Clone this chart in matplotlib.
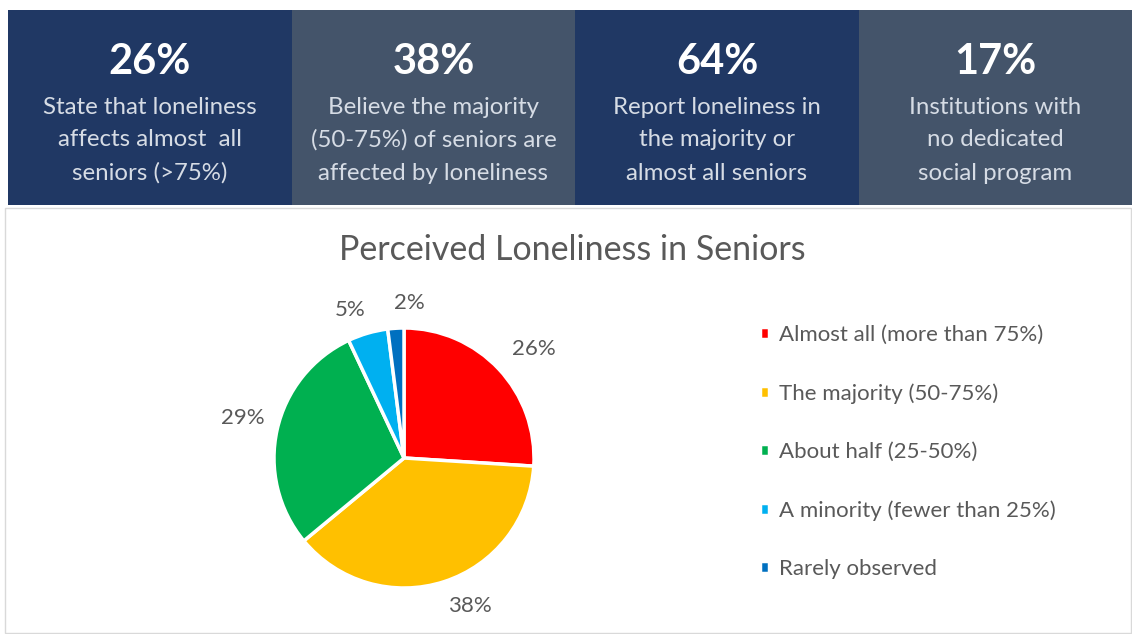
import numpy as np
import matplotlib.pyplot as plt
from matplotlib.patches import Rectangle

plt.rcParams['font.family'] = ['Lato', 'DejaVu Sans']

# headline figures across the top band
stat_values = ['26%', '38%', '64%', '17%']
stat_lines = [
    ['State that loneliness', 'affects almost  all', 'seniors (>75%)'],
    ['Believe the majority', '(50-75%) of seniors are', 'affected by loneliness'],
    ['Report loneliness in', 'the majority or', 'almost all seniors'],
    ['Institutions with', 'no dedicated', 'social program'],
]
panel_colors = ['#203864', '#44546A', '#203864', '#44546A']

# pie data
categories = ['Almost all (more than 75%)', 'The majority (50-75%)',
              'About half (25-50%)', 'A minority (fewer than 25%)',
              'Rarely observed']
shares = [26, 38, 29, 5, 2]
slice_colors = ['#FF0000', '#FFC000', '#00B050', '#00B0F0', '#0070C0']

# where each percent label sits: distance (in radii) and angle (degrees)
label_dist = [1.30, 1.25, 1.28, 1.21, 1.19]
label_angle = [40, -66, 166, 110, 88]

W, H = 1132, 634
fig = plt.figure(figsize=(W / 100, H / 100), dpi=100)
fig.patch.set_facecolor('white')

def px(x, y):
    return x / W, 1 - y / H

# top band panels
edges = [8, 292, 575, 859, 1132]
for i in range(4):
    x0, x1 = edges[i], edges[i + 1]
    fig.patches.append(Rectangle(px(x0, 205), (x1 - x0) / W, 195 / H,
                                 transform=fig.transFigure, zorder=0,
                                 facecolor=panel_colors[i], edgecolor='none'))
    cx = (x0 + x1) / 2
    fig.text(*px(cx, 62), stat_values[i], ha='center', va='center',
             color='white', fontsize=30, fontweight='bold')
    for j, line in enumerate(stat_lines[i]):
        fig.text(*px(cx, 107 + 33 * j), line, ha='center', va='center',
                 color='#D6DCE5', fontsize=17.3)

# chart area frame
fig.patches.append(Rectangle(px(5, 633), 1126 / W, 425 / H,
                             transform=fig.transFigure, facecolor='white',
                             edgecolor='#D9D9D9', linewidth=1, zorder=0))

fig.text(*px(572, 250), 'Perceived Loneliness in Seniors', ha='center',
         va='center', color='#595959', fontsize=24.5)

# pie, radius 130 px centred at (404, 458)
r = 130
half = 180
ax = fig.add_axes([(404 - half) / W, (H - 458 - half) / H,
                   2 * half / W, 2 * half / H])
ax.set_zorder(2)
wedges, texts, autotexts = ax.pie(
    shares, colors=slice_colors, startangle=90, counterclock=False,
    autopct=lambda p: f'{p:.0f}%', pctdistance=1.25,
    wedgeprops=dict(edgecolor='white', linewidth=2.5),
    textprops=dict(color='#595959', fontsize=16))
for t, d, a in zip(autotexts, label_dist, label_angle):
    t.set_position((d * np.cos(np.radians(a)), d * np.sin(np.radians(a))))
ax.set_xlim(-half / r, half / r)
ax.set_ylim(-half / r, half / r)
ax.set_aspect('equal')
ax.axis('off')

fig.legend(wedges, categories, loc='upper left',
           bbox_to_anchor=px(740, 305), frameon=False, fontsize=16,
           labelcolor='#595959', handlelength=0.42, handleheight=0.42,
           handletextpad=0.45, labelspacing=1.72)

fig.savefig('out.png', dpi=100, facecolor='white')
